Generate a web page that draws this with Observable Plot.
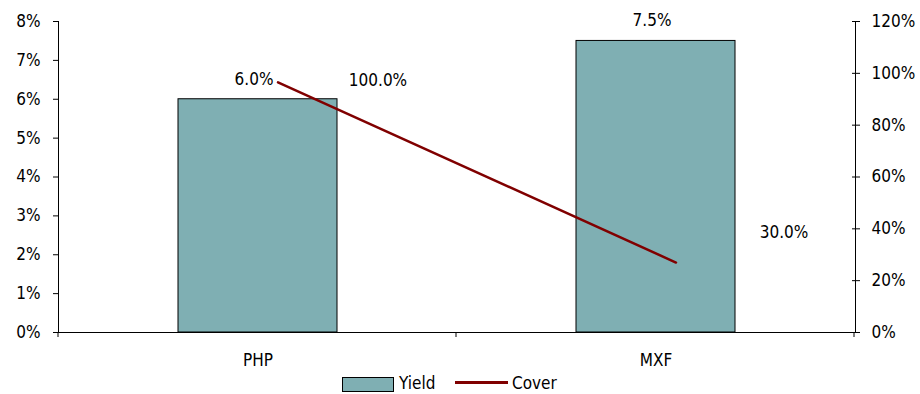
<!DOCTYPE html>
<html>
<head>
<meta charset="utf-8">
<script src="https://cdn.jsdelivr.net/npm/d3@7"></script>
<script src="https://cdn.jsdelivr.net/npm/@observablehq/plot@0.6"></script>
<style>
  html, body { margin: 0; padding: 0; background: #fff; }
  body { width: 920px; height: 394px; position: relative; overflow: hidden;
         font-family: "Liberation Sans Narrow", "Arial Narrow", "DejaVu Sans Condensed", sans-serif; }
  #legend { position: absolute; left: 0; top: 372px; width: 920px; height: 22px; font-size: 17px; color: #000; }
  #legend .sw { position: absolute; left: 342px; top: 5px; width: 50px; height: 13px; background: #7fafb3; border: 1px solid #000; }
  #legend .t1 { position: absolute; left: 399px; top: 1px; }
  #legend .ln { position: absolute; left: 455px; top: 9px; width: 53px; height: 3px; background: #800000; }
  #legend .t2 { position: absolute; left: 512px; top: 1px; }
</style>
</head>
<body>
<div id="chart"></div>
<div id="legend"><span class="sw"></span><span class="t1">Yield</span><span class="ln"></span><span class="t2">Cover</span></div>
<script>
const categories = ["PHP", "MXF"];
const yieldValues = [6.0, 7.5];
const yieldLabels = ["6.0%", "7.5%"];
const coverValues = [96.5, 27];
const coverLabels = ["100.0%", "30.0%"];
const leftTicks = [0, 1, 2, 3, 4, 5, 6, 7, 8];
const rightTicks = [0, 20, 40, 60, 80, 100, 120];
const coverMax = 120, yieldMax = 8;
const ratio = coverMax / yieldMax;

const data = categories.map((c, i) => ({
  cat: c, yld: yieldValues[i], ylab: yieldLabels[i],
  cover: coverValues[i] / ratio, clab: coverLabels[i]
}));

const font = '"Liberation Sans Narrow", "Arial Narrow", "DejaVu Sans Condensed", sans-serif';
const fs = 17;

const plot = Plot.plot({
  width: 920,
  height: 370,
  marginLeft: 58,
  marginRight: 65,
  marginTop: 21,
  marginBottom: 38,
  style: { fontFamily: font, fontSize: fs + "px", color: "#000", background: "#fff" },
  x: { domain: categories, paddingInner: 0.6, paddingOuter: 0.3, label: null },
  y: { domain: [0, yieldMax], label: null },
  marks: [
    Plot.barY(data, { x: "cat", y: "yld", fill: "#7fafb3", stroke: "#000", strokeWidth: 1 }),
    Plot.axisY(leftTicks, { anchor: "left", tickSize: 5, tickPadding: 13, tickFormat: d => d + "%", fontSize: fs, label: null }),
    Plot.axisY(rightTicks.map(v => v / ratio), { anchor: "right", tickSize: 4, tickPadding: 12, tickFormat: d => Math.round(d * ratio) + "%", fontSize: fs, label: null }),
    Plot.axisY(rightTicks.map(v => v / ratio), { anchor: "right", tickSize: 4, dx: -4, tickFormat: () => "", label: null }),
    Plot.axisX({ tickSize: 0, tickPadding: 21, fontSize: fs, label: null }),
    Plot.frame({ anchor: "left", stroke: "#000" }),
    Plot.frame({ anchor: "right", stroke: "#000" }),
    Plot.ruleY([0], { stroke: "#000" }),
    Plot.line(data, { x: "cat", y: "cover", stroke: "#800000", strokeWidth: 2.5, dx: 20 }),
    Plot.text(data, { x: "cat", y: "yld", text: "ylab", dy: -20, dx: -4, fontSize: fs }),
    Plot.text([data[0]], { x: "cat", y: "cover", text: "clab", dx: 120, dy: -2, fontSize: fs }),
    Plot.text([data[1]], { x: "cat", y: "cover", text: "clab", dx: 128, dy: -30, fontSize: fs })
  ]
});

document.getElementById("chart").appendChild(plot);

// category boundary ticks below the x axis, from the library's scales
const xs = plot.scale("x"), ys = plot.scale("y");
const step = xs.step;
const x0 = xs.range[0];
const y0 = ys.apply(0);
const svg = d3.select(plot);
const bounds = d3.range(categories.length + 1).map(i => x0 + i * step);
svg.append("g").attr("stroke", "#000").selectAll("line").data(bounds).join("line")
  .attr("x1", d => d).attr("x2", d => d).attr("y1", y0).attr("y2", y0 + 5);
</script>
</body>
</html>
